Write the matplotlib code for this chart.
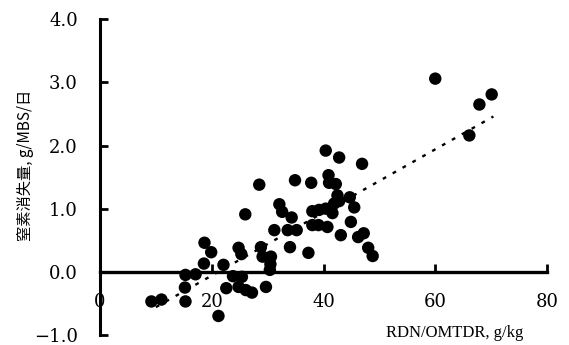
import matplotlib
matplotlib.use("Agg")
import matplotlib.pyplot as plt

# data
x_vals = [9.2, 11.0, 15.3, 15.2, 15.3, 17.1, 18.6, 18.7, 19.9, 21.2, 22.1, 22.6,
          24.8, 25.3, 26.0, 23.8, 25.4, 24.8, 26.1, 27.2, 28.5, 28.8, 29.1, 29.7,
          30.4, 30.6, 31.2, 32.1, 32.6, 33.6, 34.0, 34.3, 34.9, 35.2, 37.3, 37.8,
          38.0, 38.0, 39.1, 39.2, 40.4, 40.4, 40.7, 40.9, 41.0, 41.6, 41.9, 42.2,
          42.5, 42.8, 43.1, 44.7, 44.9, 45.5, 46.9, 46.2, 47.2, 48.0, 48.8, 60.0,
          67.9, 70.1, 66.1, 42.8, 30.5]
y_vals = [-0.47, -0.44, -0.47, -0.25, -0.05, -0.04, 0.13, 0.46, 0.31, -0.70, 0.11, -0.26,
          0.38, 0.28, 0.91, -0.07, -0.08, -0.24, -0.29, -0.33, 1.38, 0.39, 0.24, -0.24,
          0.03, 0.24, 0.66, 1.07, 0.95, 0.66, 0.39, 0.86, 1.45, 0.66, 0.30, 1.41,
          0.96, 0.74, 0.74, 0.98, 1.92, 1.00, 0.71, 1.53, 1.41, 0.93, 1.08, 1.39,
          1.21, 1.81, 0.58, 1.18, 0.79, 1.02, 1.71, 0.55, 0.61, 0.38, 0.25, 3.06,
          2.65, 2.81, 2.16, 1.12, 0.12]
trend_x = [10, 70.4]
trend_y = [-0.56, 2.46]

x_ticks = [0, 20, 40, 60, 80]
y_ticks = [-1.0, 0.0, 1.0, 2.0, 3.0, 4.0]
y_ticklabels = ["−1.0", "0.0", "1.0", "2.0", "3.0", "4.0"]
ylabel = "窒素消失量, g/MBS/日"
xlabel = "RDN/OMTDR, g/kg"

fig = plt.figure(figsize=(5.69, 3.45), dpi=100)
ax = fig.add_axes([100/569, 1 - 334.9/345, 447/569, (334.9 - 19.3)/345])
ax.set_xlim(0, 80)
ax.set_ylim(-1.0, 4.0)

ax.scatter(x_vals, y_vals, s=80, color="black", edgecolors="none", zorder=3, clip_on=False)
ax.plot(trend_x, trend_y, color="black", lw=1.7, linestyle=(0, (1.6, 3.2)), zorder=2)

for s in ["top", "right"]:
    ax.spines[s].set_visible(False)
ax.spines["left"].set_linewidth(2.2)
ax.spines["bottom"].set_linewidth(2.4)
ax.spines["bottom"].set_position(("data", 0))
ax.spines["left"].set_bounds(-1, 4)
ax.spines["bottom"].set_bounds(0, 80)

serif = "DejaVu Serif"
ax.set_xticks(x_ticks)
ax.set_xticklabels([str(t) for t in x_ticks], fontfamily=serif, fontsize=13)
ax.set_yticks(y_ticks)
ax.set_yticklabels(y_ticklabels, fontfamily=serif, fontsize=13)
ax.tick_params(axis="x", direction="in", length=6, width=2, pad=15)
ax.tick_params(axis="y", direction="in", length=6, width=2, pad=16)

fig.text(26/569, 1 - 165/345, ylabel, rotation=90, ha="center", va="center",
         fontsize=11, family=["Noto Sans CJK JP", "DejaVu Sans"])
fig.text(455/569, 1 - 333/345, xlabel, ha="center", va="center",
         fontsize=12, family="Liberation Serif")

fig.savefig("out.png", dpi=100)
